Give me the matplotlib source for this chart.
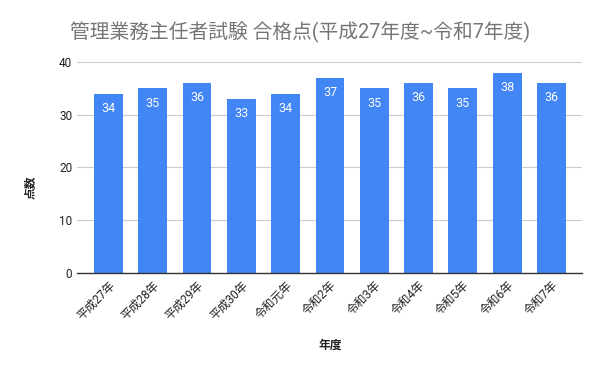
import matplotlib
matplotlib.use("Agg")
import matplotlib.pyplot as plt
import numpy as np

plt.rcParams["font.family"] = ["Roboto", "Noto Sans CJK JP", "DejaVu Sans"]

years = ["平成27年", "平成28年", "平成29年", "平成30年", "令和元年", "令和2年",
         "令和3年", "令和4年", "令和5年", "令和6年", "令和7年"]
scores = [34, 35, 36, 33, 34, 37, 35, 36, 35, 38, 36]

fig = plt.figure(figsize=(6, 3.71), dpi=100)
ax = fig.add_axes([77 / 600, 1 - 273 / 371, (582 - 77) / 600, (273 - 62) / 371])

x = np.arange(len(years))
bars = ax.bar(x, scores, 0.65, color="#4285f4", zorder=2)
for rect, v in zip(bars, scores):
    ax.annotate(str(v), xy=(rect.get_x() + rect.get_width() / 2, v),
                xytext=(0, -6), textcoords="offset points",
                ha="center", va="top", fontsize=9, color="white")

ax.set_xlim(-0.71, 10.69)
ax.set_ylim(0, 40)
ax.set_yticks([0, 10, 20, 30, 40])
ax.yaxis.grid(True, color="#cccccc", lw=0.8, zorder=0)
ax.set_xticks(x)
ax.set_xticklabels(years, rotation=45, ha="right", rotation_mode="anchor")
ax.tick_params(axis="both", length=0, labelsize=8.5, labelcolor="#222222")
ax.tick_params(axis="x", pad=4)
for s in ["top", "right", "left"]:
    ax.spines[s].set_visible(False)
ax.spines["bottom"].set_color("#333333")
ax.spines["bottom"].set_linewidth(1.0)

fig.text(0.5, 1 - 32 / 371, "管理業務主任者試験 合格点(平成27年度~令和7年度)",
         ha="center", va="center", fontsize=14.2, color="#757575")
fig.text(30 / 600, 1 - 187 / 371, "点数", rotation=90, ha="center", va="center",
         fontsize=8.5, fontweight="bold", color="#222222")
fig.text(330 / 600, 1 - 345 / 371, "年度", ha="center", va="center",
         fontsize=8.5, fontweight="bold", color="#222222")

fig.savefig("out.png", dpi=100)
